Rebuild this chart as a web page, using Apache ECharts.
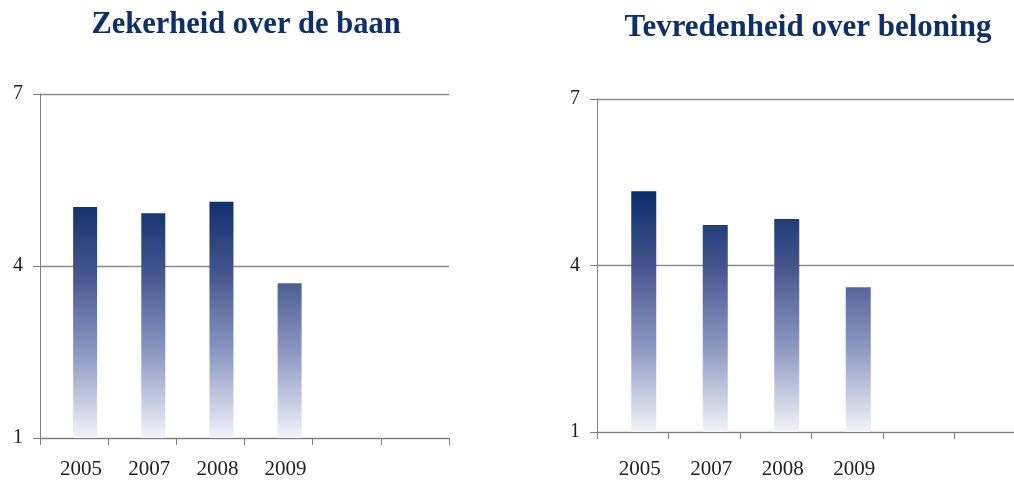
<!DOCTYPE html>
<html>
<head>
<meta charset="utf-8">
<script src="https://cdn.jsdelivr.net/npm/echarts@6/dist/echarts.min.js"></script>
<style>html,body{margin:0;padding:0;background:#fff;overflow:hidden}#c{width:1030px;height:482px}</style>
</head>
<body>
<div id="c"></div>
<script>
const categories = ['2005', '2007', '2008', '2009', '', ''];
const titles = ['Zekerheid over de baan', 'Tevredenheid over beloning'];
const zekerheid = [5.03, 4.92, 5.12, 3.70, '-', '-'];
const tevredenheid = [5.34, 4.73, 4.84, 3.61, '-', '-'];
const yTicks = { min: 1, max: 7, interval: 3 };

function grad(y0, y1) {
  return new echarts.graphic.LinearGradient(0, y0, 0, y1, [
    { offset: 0, color: '#0a2c6a' },
    { offset: 0.32, color: '#45558e' },
    { offset: 0.65, color: '#8d99c3' },
    { offset: 1, color: '#f3f3f9' }
  ], true);
}

const chart = echarts.init(document.getElementById('c'), null, { renderer: 'canvas' });
const serif = '"Liberation Serif", "DejaVu Serif", serif';
const empty = categories.map(() => '-');

function xAxis(gi, margin) {
  return {
    type: 'category', gridIndex: gi, data: categories,
    axisLine: { lineStyle: { color: '#7f7f7f', width: 1 } },
    axisTick: { show: true, length: 7, interval: 0, lineStyle: { color: '#7f7f7f' } },
    axisLabel: { interval: 0, margin: margin, fontFamily: serif, fontSize: 21, color: '#222', padding: [0, 0, 0, 14] },
    splitLine: { show: false }
  };
}
function yAxis(gi) {
  return {
    type: 'value', gridIndex: gi, min: yTicks.min, max: yTicks.max, interval: yTicks.interval,
    axisLine: { show: true, lineStyle: { color: '#7f7f7f', width: 1 } },
    axisTick: { show: true, length: 7, lineStyle: { color: '#7f7f7f' } },
    axisLabel: { margin: 17, fontFamily: serif, fontSize: 20, color: '#222' },
    splitLine: { show: true, lineStyle: { color: '#8a8a8a', width: 1.3 } }
  };
}

chart.setOption({
  animation: false,
  title: [
    { text: titles[0], left: 241, textAlign: 'center', top: 5, textStyle: { fontFamily: serif, fontWeight: 'bold', fontSize: 30.5, color: '#0d2f6b' } },
    { text: titles[1], left: 803, textAlign: 'center', top: 7, textStyle: { fontFamily: serif, fontWeight: 'bold', fontSize: 31, color: '#0d2f6b' } }
  ],
  grid: [
    { left: 40, top: 94, width: 409, height: 344 },
    { left: 597, top: 99, width: 429, height: 333 }
  ],
  xAxis: [xAxis(0, 21), xAxis(1, 27)],
  yAxis: [yAxis(0), yAxis(1)],
  series: [
    { type: 'bar', xAxisIndex: 0, yAxisIndex: 0, data: empty, barWidth: 24, barGap: '-8%', silent: true },
    { type: 'bar', xAxisIndex: 0, yAxisIndex: 0, data: zekerheid, barWidth: 24, barGap: '-8%', itemStyle: { color: grad(195, 438) } },
    { type: 'bar', xAxisIndex: 1, yAxisIndex: 1, data: empty, barWidth: 25, barGap: '-12%', silent: true },
    { type: 'bar', xAxisIndex: 1, yAxisIndex: 1, data: tevredenheid, barWidth: 25, barGap: '-12%', itemStyle: { color: grad(190, 432) } }
  ]
});
</script>
</body>
</html>
